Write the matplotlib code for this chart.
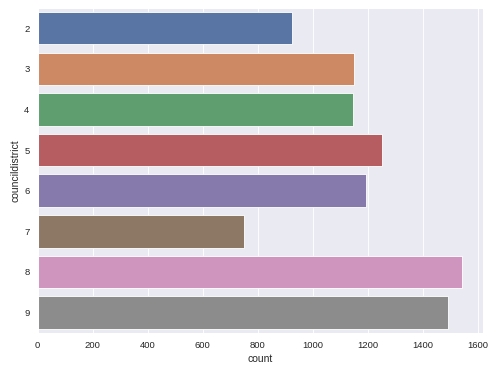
import matplotlib
matplotlib.use('Agg')
import matplotlib.pyplot as plt
import seaborn as sns

DISTRICTS = ['2', '3', '4', '5', '6', '7', '8', '9']
COUNTS = [925, 1151, 1147, 1252, 1194, 750, 1541, 1493]

sns.set_theme(style='darkgrid')
plt.rcParams['font.family'] = ['Liberation Sans', 'DejaVu Sans']

fig = plt.figure(figsize=(8, 374 / 62.125), dpi=62.125)
ax = fig.add_axes([0.0758, 0.110, 0.8955, 0.869])

colors = sns.color_palette('deep', len(DISTRICTS), desat=0.75)
ax.barh(range(len(DISTRICTS)), COUNTS, height=0.8, color=colors)

ax.set_yticks(range(len(DISTRICTS)))
ax.set_yticklabels(DISTRICTS)
ax.set_ylim(len(DISTRICTS) - 0.5, -0.5)
ax.set_xticks([0, 200, 400, 600, 800, 1000, 1200, 1400, 1600])
ax.yaxis.grid(False)
ax.tick_params(labelsize=11)
ax.set_xlabel('count', fontsize=12)
ax.set_ylabel('councildistrict', fontsize=12)

fig.savefig('out.png', dpi=62.125)
